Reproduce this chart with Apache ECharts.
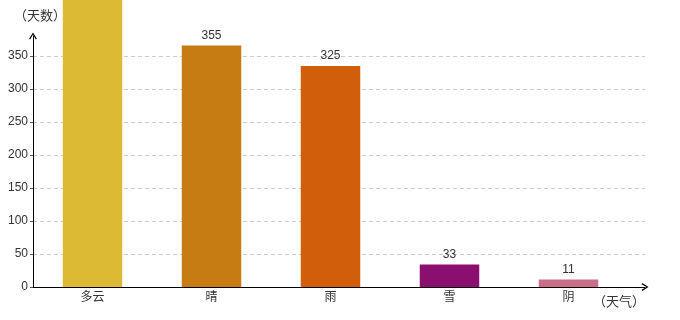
<!DOCTYPE html>
<html>
<head>
<meta charset="utf-8">
<script src="https://cdn.jsdelivr.net/npm/echarts@6/dist/echarts.min.js"></script>
<style>
html,body{margin:0;padding:0;background:#fff;}
#chart{width:680px;height:320px;}
</style>
</head>
<body>
<div id="chart"></div>
<script>
// Data
var categories = ['多云', '晴', '雨', '雪', '阴'];
var days = [450, 355, 325, 33, 11];
var barColors = ['#DDBA33', '#C67C12', '#D05E0A', '#8B0F6E', '#C86E87'];
var yTickInterval = 50;

var FONT = '"Liberation Sans", "Noto Sans CJK SC", sans-serif';
var CJK = '"Noto Sans CJK SC", sans-serif';
var NAMEFONT = '"Noto Sans CJK SC", sans-serif';
var arrow = 'path://M5,0L10,8L8.6,9L5,2.6L1.4,9L0,8Z';

var chart = echarts.init(document.getElementById('chart'), null, {renderer: 'canvas'});
chart.setOption({
  backgroundColor: '#ffffff',
  animation: false,
  textStyle: {fontFamily: FONT},
  grid: [
    {left: 33, right: 35, top: 36, bottom: 33},
    {left: 33, right: 52, top: 36, bottom: 33}
  ],
  xAxis: [
    {
      gridIndex: 0, type: 'category', data: categories,
      name: '（天气）', nameLocation: 'end', nameGap: 0,
      nameTextStyle: {color: '#333', fontSize: 13, fontFamily: NAMEFONT, align: 'right', verticalAlign: 'top', padding: [8, 0, 0, 0]},
      axisLine: {show: true, lineStyle: {color: '#000', width: 1}, symbol: ['none', arrow], symbolSize: [8, 7]},
      axisTick: {show: false}, axisLabel: {show: false}, splitLine: {show: false}
    },
    {
      gridIndex: 1, type: 'category', data: categories,
      axisLine: {show: false}, axisTick: {show: false},
      axisLabel: {color: '#333', fontSize: 12, margin: 3, fontFamily: CJK}
    }
  ],
  yAxis: [
    {
      gridIndex: 0, type: 'value', min: 0, max: 380, interval: yTickInterval,
      name: '（天数）', nameLocation: 'end', nameGap: 14,
      nameTextStyle: {color: '#333', fontSize: 13, fontFamily: NAMEFONT, align: 'center', padding: [0, 0, 0, 14]},
      axisLine: {show: true, lineStyle: {color: '#000', width: 1}, symbol: ['none', arrow], symbolSize: [8, 7]},
      axisTick: {show: true, length: 3, lineStyle: {color: '#555'}},
      axisLabel: {color: '#333', fontSize: 12, margin: 5, showMaxLabel: false, fontFamily: FONT},
      splitLine: {show: true, showMaxLine: false, lineStyle: {color: '#ccc', type: [4, 3], width: 1}}
    },
    {
      gridIndex: 1, type: 'value', min: 0, max: 369, show: false, splitLine: {show: false}
    }
  ],
  series: [{
    type: 'bar',
    xAxisIndex: 1, yAxisIndex: 1,
    barWidth: '50%',
    clip: false,
    data: days.map(function (v, i) { return {value: v, itemStyle: {color: barColors[i]}}; }),
    label: {show: true, position: 'top', distance: 4, color: '#333', fontSize: 12, fontFamily: FONT}
  }]
});
</script>
</body>
</html>
